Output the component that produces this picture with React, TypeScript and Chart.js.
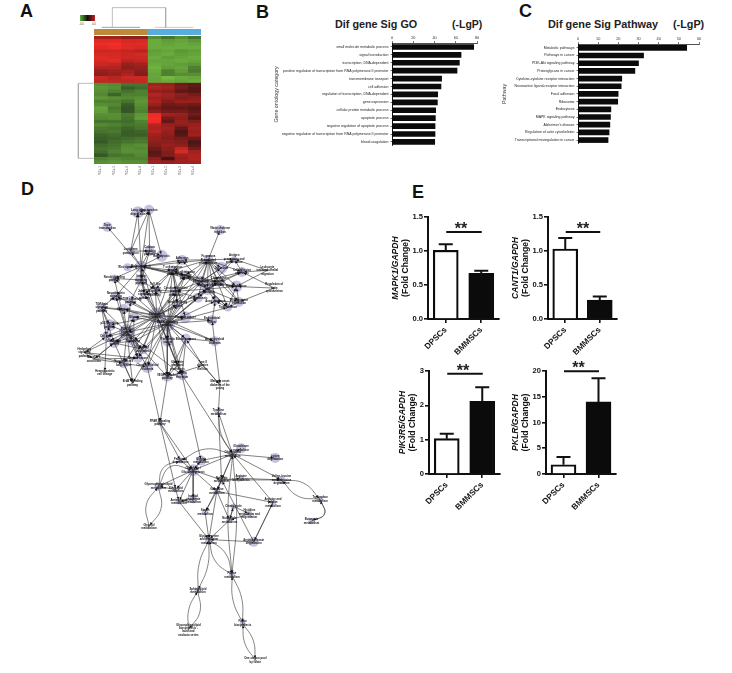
import React, { useEffect, useRef } from "react";
import { Chart, registerables } from "chart.js";
Chart.register(...registerables);

const FONT = "'Liberation Sans', Arial, sans-serif";

/* ---------- panel A ---------- */
const heatTop = [
  [.6,.6,.5,.5,-.7,-.5,-.7,-.5],[.9,.9,.85,.85,-.9,-.8,-.85,-.75],[.95,1,.9,.9,-.9,-.85,-.9,-.85],
  [.9,.95,.9,.85,-.9,-.9,-.9,-.9],[.8,.8,.75,.7,-.8,-.85,-.75,-.8],[.85,.85,.8,.85,-.85,-.9,-.8,-.85],
  [.9,.85,.8,.8,-.9,-.8,-.85,-.9],[.85,.9,.7,.75,-.85,-.85,-.9,-.85],[.8,.75,.55,.6,-.9,-.85,-.8,-.75],
  [.7,.7,.5,.55,-.95,-.8,-.85,-.6],[.55,.6,.6,.5,-.9,-.6,-.8,-.55],[.5,.55,.65,.45,-.85,-.6,-.7,-.7],
  [.8,.7,.8,.8,-.85,-1,-.9,-.85],[.75,.75,.75,.8,-.85,-.9,-.85,-.9],
];
const heatBottom = [
  [-.7,-.65,-.5,-.5,.6,.55,.35,.3],[-.75,-.7,-.35,-.45,.65,.6,.4,.25],[-.7,-.6,-.5,-.6,.55,.5,.3,.25],
  [-.65,-.4,-.6,-.6,.7,.6,.5,.4],[-.75,-.7,-.65,-.7,.6,.55,.45,.5],[-.6,-.6,-.5,-.75,.65,.45,.55,.55],
  [-.7,-.65,-.35,-.7,.55,.35,.4,.35],[-.85,-.55,-.3,-.65,.4,.3,.3,.25],[-.8,-.6,-.3,-.6,.5,.4,.4,.3],
  [-.7,-.7,-.55,-.75,.95,.6,.55,.35],[-.65,-.7,-.5,-.8,1,.4,.5,.25],[-.5,-.5,-.45,-.6,.95,.3,.55,.45],
  [-.65,-.6,-.5,-.55,.7,.55,.5,.55],[-.55,-.5,-.4,-.5,.65,.6,.3,.6],[-.5,-.55,-.35,-.4,.7,.55,.2,.55],
  [-.4,-.45,-.35,-.35,.6,.5,.25,.6],[-.35,-.4,-.45,-.5,.55,.45,.4,.35],[-.3,-.45,-.5,-.55,.5,.5,.45,.2],
  [-.45,-.5,-.65,-.7,.45,.55,.5,.25],[-.5,-.55,-.7,-.65,.35,.5,.75,.4],[-.45,-.6,-.7,-.7,.25,.45,.85,.6],
  [-.3,-.5,-.55,-.65,.3,.45,.6,.65],[-.6,-.65,-.6,-.6,.5,.15,.55,.65],[-.7,-.75,-.7,-.7,.6,.55,.6,.6],
];
const heatRows = [...heatTop, ...heatBottom];
const sampleIds = ["DPSCs-1","DPSCs-2","DPSCs-3","DPSCs-4","BMMSCs-1","BMMSCs-2","BMMSCs-3","BMMSCs-4"];
const groupNames = ["DPSCs","BMMSCs"];
const groupColors = ["#BC8A3C","#57AEDC"];
const topDendro = [[337,83],[337,23],[497,23],[497,83]];
const leftDendro = [[282,250],[235,250],[235,475],[282,475]];

/* ---------- panels B, C ---------- */
const goTerms = ["small molecule metabolic process","signal transduction","transcription, DNA-dependent","positive regulation of transcription from RNA polymerase II promoter","transmembrane transport","cell adhesion","regulation of transcription, DNA-dependent","gene expression","cellular protein metabolic process","apoptotic process","negative regulation of apoptotic process","negative regulation of transcription from RNA polymerase II promoter","blood coagulation"];
const goValues = [76.9,65,63.4,61.2,46.7,46.1,43,42.7,41.1,40.8,40.5,40.5,40.2];
const pathwayTerms = ["Metabolic pathways","Pathways in cancer","PI3K-Akt signaling pathway","Proteoglycans in cancer","Cytokine-cytokine receptor interaction","Neuroactive ligand-receptor interaction","Focal adhesion","Ribosome","Endocytosis","MAPK signaling pathway","Alzheimer's disease","Regulation of actin cytoskeleton","Transcriptional misregulation in cancer"];
const pathwayValues = [53.9,32.5,30,28.2,21.7,21.4,19.9,19.7,16.3,16.1,15.8,15.4,14.9];

/* ---------- panel D ---------- */
const nodeNames = ["Long-term depression","Gap junction","Taste transduction","Vibrio cholerae infection","Long-term potentiation","Calcium signaling pathway","Endocytosis","Melanogenesis","Wnt signaling","Notch signaling pathway","Insulin signaling pathway","Adherens junction","Fc gamma R-mediated phagocytosis","Antigen processing and presentation","Lysosome","Leukocyte transendothelial migration","Regulation of actin cytoskeleton","Cell adhesion molecules","Focal adhesion","ECM-receptor interaction","Tight junction","Axon guidance","Phagosome","Natural killer cell cytotoxicity","Chemokine signaling pathway","T cell receptor signaling pathway","B cell receptor signaling pathway","Cytokine-cytokine receptor interaction","Jak-STAT signaling pathway","Toll-like receptor signaling pathway","Leishmaniasis","Neurotrophin signaling pathway","mTOR signaling pathway","TGF-beta signaling pathway","Apoptosis","Pathways in cancer","MAPK signaling pathway","Prostate cancer","Small cell lung cancer","Glioma","p53 signaling pathway","PI3K-Akt signaling pathway","Cell cycle","Colorectal cancer","Melanoma","Pancreatic cancer","Bladder cancer","Endometrial cancer","Acute myeloid leukemia","Hedgehog signaling pathway","Basal cell carcinoma","Renal cell carcinoma","Thyroid cancer","Non-small cell lung cancer","Chronic myeloid leukemia","Hematopoietic cell lineage","ErbB signaling pathway","Ubiquitin mediated proteolysis","VEGF signaling pathway","Insulin secretion","Type II diabetes mellitus","Maturity onset diabetes of the young","Tyrosine metabolism","PPAR signaling pathway","Glycerolipid metabolism","Glutathione metabolism","Lysine degradation","Fatty acid degradation","Glycine metabolism","Glycolysis / Gluconeogenesis","Pyruvate metabolism","Arginine biosynthesis","Valine, leucine and isoleucine degradation","Glycerophospholipid metabolism","Ether lipid metabolism","Galactose metabolism","Amino sugar metabolism","Inositol phosphate metabolism","Starch metabolism","Citrate cycle","Histidine metabolism and degradation","Nucleotide metabolism","Arginine and proline metabolism","Tryptophan metabolism","Butanoate metabolism","Glycerol metabolism","Glycine, serine and threonine metabolism","Aminobenzoate degradation","Purine metabolism","Sphingolipid metabolism","Glycosphingolipid biosynthesis - lacto and neolacto series","Folate biosynthesis","One carbon pool by folate"];
const nodeX = [285,320,188,545,262,322,360,295,252,210,295,425,508,590,550,695,717,615,597,605,570,530,485,505,540,395,435,405,305,340,475,215,262,170,240,345,378,435,410,272,195,250,185,210,270,380,437,520,528,115,145,300,285,240,315,180,268,410,378,425,490,545,540,355,585,612,720,420,485,460,550,612,740,350,405,535,415,460,498,588,638,575,713,862,835,320,510,652,583,475,445,617,657];
const nodeY = [60,52,105,115,180,180,195,228,230,265,270,208,207,205,232,240,295,245,290,338,355,335,275,298,275,240,255,305,315,300,325,320,335,355,360,380,405,385,345,385,410,432,445,465,460,458,452,395,460,495,515,485,512,528,540,557,590,535,570,565,535,595,680,713,810,792,822,830,830,860,890,885,890,910,920,925,957,950,990,972,995,1015,960,950,1018,1035,1075,1082,1185,1233,1355,1335,1449];
const nodeR = [6,5,5,5,4,5,6,6,4,4,6,5,5,3,6,1,1,5,6,5,4,4,6,6,5,5,5,5,4,4,5,5,5,5,5,8,8,6,5,5,6,8,5,5,5,6,5,5,5,1,1,5,5,5,6,1,1,3,5,5,1,1,3,3,4,5,5,3,5,6,4,3,4,4,3,3,3,4,3,3,3,3,3,3,3,1,4,5,3,3,1,3,1];
const edgeStar: [number, number[]][] = [
  [36,[8,11,26,28,29,30,33,34,35,39,38,40,41,42,43,44,45,46,47,52,53,54,55,58,59,60,13,23,31,48,10,32,24,27,49]],
  [37,[24,25,26,27,28,31,38,39,40,42,44,45,46,47,48,49,52,53,58,59,60,55,62,57,29,30,13,23,21,22,35]],
  [42,[34,35,41,43,44,45,50,51,52,53,54,55,33,40,57,32,10,59,60]],
  [13,[15,14,18,19,20,21,22,25,26,27,12,31,4,8,23,24]],
  [23,[15,14,18,19,21,25,26,27,12,8,28,24]],
  [24,[14,18,19,20,21,22,25,26,27,28,31]],
  [8,[1,2,3,5,6,7,9,11,10,26,27,12,32,29,30,19,25]],
  [26,[27,28,12,29,30,39,38]],[28,[29,30,39,31,27]],[5,[1,2,6]],[2,[1,7]],[6,[7,2,11]],[11,[29,30,33,10]],
  [34,[41,43,32,35,44]],[50,[51,53,54,43]],[51,[53,54,44]],[43,[56,44,41]],[44,[45,52,57]],[45,[52,53,40]],
  [54,[55,57]],[55,[64]],[59,[64,61]],[61,[62,47]],[49,[62,48,47]],[48,[22]],[47,[60,59,58]],[58,[60,59,46]],
  [16,[18,19,14]],[17,[18,19,20]],[20,[21,22,19,25]],[21,[22,19]],[18,[14,25]],[60,[65,69]],[62,[63]],
  [64,[75,68,70]],[63,[65,71]],[65,[67,66,70,73,69,71,76]],[68,[70]],[69,[70]],
  [70,[71,76,74,75,77,78,69]],[71,[72,73,76,79]],[72,[73]],[76,[87,82,79,83]],[75,[74,77]],[77,[87]],[78,[77]],[79,[87]],[82,[87,80]],
  [80,[81,82]],[81,[82]],[88,[71,87,83]],[83,[88,65]],
];
const curvedEdges = [
  [73,84,-22],[84,73,-22],[84,85,-30],[85,84,30],[74,70,-40],[74,86,-24],[86,74,-24],[87,90,-14],[90,87,-14],
  [87,89,-20],[89,87,-20],[89,92,-14],[92,89,-14],[92,93,-14],[93,92,-14],[90,91,-22],[91,90,-14],[89,65,-14],[65,89,-14],[65,68,26],[74,68,-26],[65,63,-14],
];

/* ---------- panel E ---------- */
const eCategories = ["DPSCs","BMMSCs"];
const mapk1Means = [1.01,0.67];
const mapk1Errors = [1.10,0.71];
const cant1Means = [1.03,0.28];
const cant1Errors = [1.19,0.33];
const pik3r5Means = [1.03,2.12];
const pik3r5Errors = [1.17,2.53];
const pklrMeans = [1.8,14];
const pklrErrors = [3.3,18.6];

const heatColor = (v: number) => {
  const a = Math.abs(v);
  const c = v > 0
    ? [35 + (245 - 35) * a, 15 + 30 * a, 15 + 25 * a]
    : [25 + 90 * a, 45 + 140 * a, 25 + 40 * a];
  return `rgb(${c.map(Math.round).join(",")})`;
};

function wrap(name: string, max: number) {
  const lines: string[] = [];
  let cur = "";
  name.split(" ").forEach((w) => {
    if (cur && (cur + " " + w).length > max) { lines.push(cur); cur = w; }
    else cur = cur ? cur + " " + w : w;
  });
  if (cur) lines.push(cur);
  return lines;
}

function CC({ box, make, blur = 0.35 }: { box: number[]; make: () => any; blur?: number }) {
  const ref = useRef<HTMLCanvasElement>(null);
  useEffect(() => {
    const c = new Chart(ref.current as HTMLCanvasElement, make());
    return () => c.destroy();
  }, []);
  return (
    <canvas
      ref={ref}
      width={box[2]}
      height={box[3]}
      style={{ position: "absolute", left: box[0], top: box[1], width: box[2], height: box[3], filter: `blur(${blur}px)` }}
    />
  );
}

const base = { responsive: false, animation: false, events: [] as string[] };
const noPlugins = { legend: { display: false }, tooltip: { enabled: false } };

function heatConfig() {
  return {
    type: "bar",
    data: {
      labels: heatRows.map((_, i) => String(i)),
      datasets: sampleIds.map((s, c) => ({
        label: s,
        data: heatRows.map(() => 1),
        backgroundColor: heatRows.map((r) => heatColor(r[c])),
        barPercentage: 1, categoryPercentage: 1, borderWidth: 0,
      })),
    },
    options: {
      ...base, indexAxis: "y", plugins: noPlugins, layout: { padding: 0 },
      scales: { x: { stacked: true, display: false, min: 0, max: 8 }, y: { stacked: true, display: false } },
    },
  };
}
function bandConfig() {
  return {
    type: "bar",
    data: {
      labels: ["group"],
      datasets: groupNames.map((g, i) => ({ label: g, data: [1], backgroundColor: groupColors[i], barPercentage: 1, categoryPercentage: 1 })),
    },
    options: {
      ...base, indexAxis: "y", plugins: noPlugins, layout: { padding: 0 },
      scales: { x: { stacked: true, display: false, min: 0, max: 2 }, y: { stacked: true, display: false } },
    },
  };
}
function dendroConfig() {
  const line = (pts: number[][], color: string, w: number) => ({
    type: "scatter", showLine: true, data: pts.map(([x, y]) => ({ x, y })), borderColor: color, borderWidth: w, pointRadius: 0,
  });
  return {
    type: "scatter",
    data: {
      datasets: [
        line(topDendro, "#aaa", 0.8),
        line(leftDendro, "#aaa", 0.8),
        line([[305,82],[420,82]], "#666", 0.6),
        line([[465,82],[580,82]], "#aaa", 0.6),
      ],
    },
    options: {
      ...base, plugins: noPlugins, layout: { padding: 0 },
      scales: { x: { display: false, min: 0, max: 720 }, y: { display: false, min: 0, max: 525, reverse: true } },
    },
    plugins: [{
      id: "samples",
      afterDatasetsDraw(ch: any) {
        const { ctx, scales } = ch;
        ctx.save();
        ctx.fillStyle = "#666";
        ctx.font = `3px ${FONT}`;
        ctx.textAlign = "right";
        ctx.textBaseline = "middle";
        sampleIds.forEach((s, i) => {
          ctx.save();
          ctx.translate(scales.x.getPixelForValue(302 + 40 * i - (i > 3 ? 2 : 0)), scales.y.getPixelForValue(498));
          ctx.rotate(-Math.PI / 2);
          ctx.fillText(s, 0, 0);
          ctx.restore();
        });
        ctx.restore();
      },
    }],
  };
}

function hbarConfig(labels: string[], values: number[], max: number, step: number, title: string, yw: number, xh: number, padR: number, titlePad: number) {
  return {
    type: "bar",
    data: { labels, datasets: [{ data: values, backgroundColor: "#0b0b0b", barThickness: 5 }] },
    options: {
      ...base, indexAxis: "y", plugins: noPlugins,
      layout: { padding: { right: padR, top: 0, bottom: 3, left: 0 } },
      scales: {
        x: {
          position: "top", min: 0, max, afterFit: (s: any) => { s.height = xh; },
          border: { color: "#222", width: 0.8 },
          grid: { drawOnChartArea: false, tickLength: 2, color: "#222", lineWidth: 0.6 },
          ticks: { stepSize: step, maxRotation: 0, padding: 1, color: "#333", font: { size: 3.8, family: FONT } },
        },
        y: {
          afterFit: (s: any) => { s.width = yw; },
          border: { color: "#111", width: 1 },
          grid: { drawOnChartArea: false, offset: false, tickLength: 1.5, color: "#111", lineWidth: 0.6 },
          title: { display: true, text: title, color: "#333", padding: { top: titlePad, bottom: 0 }, font: { size: 5.3, family: FONT } },
          ticks: { autoSkip: false, padding: 2, color: "#222", font: { size: 3.5, family: FONT, weight: "500" } },
        },
      },
    },
  };
}

function eConfig(gene: string, means: number[], errs: number[], yMax: number, step: number, sig: number, dec: number, off: number, starDx: number) {
  const fills = ["#ffffff", "#0b0b0b"];
  return {
    type: "bar",
    data: {
      labels: eCategories,
      datasets: [{ data: means, backgroundColor: fills, borderColor: "#0b0b0b", borderWidth: 2.2, barThickness: 25 }],
    },
    options: {
      ...base, plugins: noPlugins,
      layout: { padding: { top: 16, right: 3, left: 0, bottom: 0 } },
      scales: {
        x: {
          afterFit: (s: any) => { s.height = 50; },
          border: { color: "#111", width: 2 },
          grid: { drawOnChartArea: false, offset: false, tickLength: 4, color: "#111", lineWidth: 1.6 },
          ticks: { minRotation: 45, maxRotation: 45, padding: 2, color: "#111", font: { size: 8.3, weight: "bold", family: FONT } },
        },
        y: {
          min: 0, max: yMax,
          afterFit: (s: any) => { s.width = 42; },
          border: { color: "#111", width: 2 },
          grid: { drawOnChartArea: false, tickLength: 4, color: "#111", lineWidth: 1.6 },
          ticks: { stepSize: step, padding: 1, color: "#111", font: { size: 7.6, weight: "bold", family: FONT }, callback: (v: number) => v.toFixed(dec) },
        },
      },
    },
    plugins: [{
      id: "eAnnot",
      afterDatasetsDraw(ch: any) {
        const { ctx, scales, chartArea } = ch;
        const sx = scales.x, sy = scales.y;
        ctx.save();
        ctx.strokeStyle = "#111";
        ctx.lineWidth = 2;
        means.forEach((m, i) => {
          const x = sx.getPixelForValue(i);
          ctx.beginPath();
          ctx.moveTo(x, sy.getPixelForValue(m));
          ctx.lineTo(x, sy.getPixelForValue(errs[i]));
          ctx.moveTo(x - 7, sy.getPixelForValue(errs[i]));
          ctx.lineTo(x + 7, sy.getPixelForValue(errs[i]));
          ctx.stroke();
        });
        const ys = sy.getPixelForValue(sig);
        const x1 = sx.getPixelForValue(0) + 0.5, x2 = sx.getPixelForValue(1) + 0.5;
        ctx.beginPath(); ctx.moveTo(x1, ys); ctx.lineTo(x2, ys); ctx.stroke();
        ctx.fillStyle = "#222";
        ctx.font = `bold 16px ${FONT}`;
        ctx.textAlign = "center";
        ctx.textBaseline = "alphabetic";
        ctx.fillText("**", (x1 + x2) / 2 + starDx, ys + 2);
        const cy = (chartArea.top + chartArea.bottom) / 2;
        ctx.fillStyle = "#111";
        ctx.textBaseline = "middle";
        ctx.save();
        ctx.translate(chartArea.left - off - 10, cy);
        ctx.rotate(-Math.PI / 2);
        ctx.font = `italic bold 8.6px ${FONT}`;
        ctx.fillText(`${gene}/GAPDH`, 0, 0);
        ctx.restore();
        ctx.save();
        ctx.translate(chartArea.left - off, cy);
        ctx.rotate(-Math.PI / 2);
        ctx.font = `bold 8.6px ${FONT}`;
        ctx.fillText("(Fold Change)", 0, 0);
        ctx.restore();
        ctx.restore();
      },
    }],
  };
}

function networkConfig() {
  const pt = (id: number) => ({ x: nodeX[id - 1], y: nodeY[id - 1] });
  const straight: any[] = [];
  const arrows: any[] = [];
  const rot: number[] = [];
  const addArrow = (from: { x: number; y: number }, to: { x: number; y: number }) => {
    const dx = to.x - from.x, dy = to.y - from.y, d = Math.hypot(dx, dy) || 1;
    arrows.push({ x: to.x - (dx / d) * 12, y: to.y - (dy / d) * 12 });
    rot.push((Math.atan2(dy, dx) * 180) / Math.PI + 90);
  };
  edgeStar.forEach(([a, list]) => list.forEach((b) => {
    straight.push(pt(a), pt(b), { x: NaN, y: NaN });
    addArrow(pt(a), pt(b));
  }));
  const curves = curvedEdges.map(([a, b, bend]) => {
    const p = pt(a), q = pt(b);
    const dx = q.x - p.x, dy = q.y - p.y, d = Math.hypot(dx, dy) || 1;
    const m = { x: (p.x + q.x) / 2 - (dy / d) * bend, y: (p.y + q.y) / 2 + (dx / d) * bend };
    addArrow(m, q);
    return {
      type: "scatter", showLine: true, data: [p, m, q], tension: 0.45, order: 2,
      borderColor: "#444", borderWidth: 0.65, pointRadius: 0,
    };
  });
  return {
    type: "scatter",
    data: {
      datasets: [
        { data: nodeX.map((x, i) => ({ x, y: nodeY[i] })), backgroundColor: "#C4C2E2", pointRadius: nodeR, borderWidth: 0, order: 3 },
        { type: "scatter", showLine: true, spanGaps: false, data: straight, borderColor: "#3c3c3c", borderWidth: 0.65, pointRadius: 0, order: 2 },
        ...curves,
        { data: arrows, pointStyle: "triangle", pointRadius: 1.6, pointRotation: rot, backgroundColor: "#111", borderWidth: 0, order: 1 },
      ],
    },
    options: {
      ...base, plugins: noPlugins, layout: { padding: 0 },
      scales: { x: { display: false, min: 0, max: 900 }, y: { display: false, min: 0, max: 1464, reverse: true } },
    },
    plugins: [{
      id: "nodeLabels",
      afterDatasetsDraw(ch: any) {
        const { ctx, scales } = ch;
        ctx.save();
        ctx.font = `bold 2.8px ${FONT}`;
        ctx.fillStyle = "#111";
        ctx.textAlign = "center";
        ctx.textBaseline = "middle";
        nodeNames.forEach((n, i) => {
          const lines = wrap(n, 15);
          const x = scales.x.getPixelForValue(nodeX[i]);
          const y = scales.y.getPixelForValue(nodeY[i]);
          lines.forEach((l, k) => ctx.fillText(l, x, y + (k - (lines.length - 1) / 2) * 3.4));
        });
        ctx.restore();
      },
    }],
  };
}

function Txt({ x, y, size, children, weight = "bold", color = "#111" }: any) {
  return (
    <div style={{ position: "absolute", left: x, top: y, fontSize: size, lineHeight: 1, fontWeight: weight, color, fontFamily: FONT, whiteSpace: "nowrap" }}>
      {children}
    </div>
  );
}

export default function App() {
  return (
    <div style={{ position: "absolute", left: 0, top: 0, width: 732, height: 673, background: "#fff", overflow: "hidden" }}>
      <Txt x={20} y={2} size={18}>A</Txt>
      <Txt x={256} y={3} size={18}>B</Txt>
      <Txt x={519} y={2} size={18}>C</Txt>
      <Txt x={21} y={180} size={18}>D</Txt>
      <Txt x={412} y={183} size={18}>E</Txt>

      <Txt x={335} y={19} size={10.8} color="#222">Dif gene Sig GO</Txt>
      <Txt x={452} y={19} size={10.5} color="#222">(-LgP)</Txt>
      <Txt x={548} y={19} size={10.9} color="#222">Dif gene Sig Pathway</Txt>
      <Txt x={673} y={19} size={10.8} color="#222">(-LgP)</Txt>

      <div style={{ position: "absolute", left: 80, top: 15, width: 15, height: 6, background: "linear-gradient(90deg,#5cb040,#111 50%,#c02020)", filter: "blur(0.3px)" }} />
      <Txt x={79} y={22.5} size={2.8} weight="normal" color="#444">-4.0</Txt>
      <Txt x={92} y={22.5} size={2.8} weight="normal" color="#444">4.0</Txt>

      <CC box={[0, 0, 240, 175]} make={dendroConfig} />
      <CC box={[94, 29, 107, 6]} make={bandConfig} />
      <CC box={[94, 36, 107, 128]} make={heatConfig} />

      <CC box={[270, 28, 214, 122]} make={() => hbarConfig(goTerms, goValues, 80, 20, "Gene ontology category", 122, 15, 7, 3)} />
      <CC box={[498, 29, 208, 119]} make={() => hbarConfig(pathwayTerms, pathwayValues, 60, 10, "Pathway", 80, 15, 7, 3)} />

      <CC box={[40, 185, 300, 488]} make={networkConfig} blur={0.4} />

      <CC box={[386, 201, 116, 168]} make={() => eConfig("MAPK1", mapk1Means, mapk1Errors, 1.5, 0.5, 1.28, 1, 22.5, -3)} blur={0.3} />
      <CC box={[506, 201, 114, 168]} make={() => eConfig("CANT1", cant1Means, cant1Errors, 1.5, 0.5, 1.28, 1, 22.5, 0)} blur={0.3} />
      <CC box={[387, 355, 116, 169]} make={() => eConfig("PIK3R5", pik3r5Means, pik3r5Errors, 3, 1, 2.92, 0, 16, -2)} blur={0.3} />
      <CC box={[504, 355, 115, 169]} make={() => eConfig("PKLR", pklrMeans, pklrErrors, 20, 5, 19.94, 0, 20.7, -3)} blur={0.3} />
    </div>
  );
}
